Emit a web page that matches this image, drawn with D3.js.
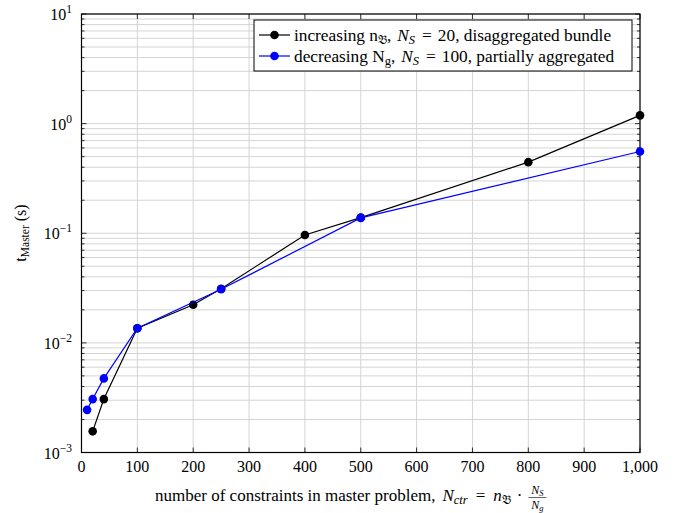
<!doctype html>
<html>
<head>
<meta charset="utf-8">
<script src="https://d3js.org/d3.v7.min.js"></script>
<style>
  body { margin: 0; background: #fff; }
  text { font-family: "Liberation Serif", "DejaVu Serif", serif; }
</style>
</head>
<body>
<svg width="683" height="513" id="chart"></svg>
<script>
    // data
    var blackX = [20, 40, 100, 200, 250, 400, 500, 800, 1000];
    var blackY = [0.00156, 0.00307, 0.0136, 0.0223, 0.0312, 0.0964, 0.139, 0.445, 1.19];
    var blueX = [10, 20, 40, 100, 250, 500, 1000];
    var blueY = [0.00245, 0.00307, 0.00474, 0.0136, 0.0308, 0.138, 0.557];
    var xTicks = [0, 100, 200, 300, 400, 500, 600, 700, 800, 900, 1000];
    var yExps = [-3, -2, -1, 0, 1];

    var svg = d3.select("#chart");
    var pLeft = 81.5, pRight = 640, pTop = 14, pBottom = 452.5;

    var x = d3.scaleLinear().domain([0, 1000]).range([pLeft, pRight]);
    var y = d3.scaleLog().domain([1e-3, 10]).range([pBottom, pTop]);

    // grid
    var minorY = [];
    yExps.slice(0, -1).forEach(function(e) {
        for (var k = 2; k <= 9; k++) minorY.push(k * Math.pow(10, e));
    });
    var grid = svg.append("g").attr("stroke", "#d4d4d4").attr("stroke-width", 1);
    grid.selectAll(".gy").data(minorY.concat(yExps.map(function(e) { return Math.pow(10, e); })))
        .enter().append("line")
        .attr("x1", pLeft).attr("x2", pRight)
        .attr("y1", function(d) { return y(d); }).attr("y2", function(d) { return y(d); });
    grid.selectAll(".gx").data(xTicks)
        .enter().append("line")
        .attr("y1", pTop).attr("y2", pBottom)
        .attr("x1", function(d) { return x(d); }).attr("x2", function(d) { return x(d); });

    // ticks (inside, all four sides)
    var ticks = svg.append("g").attr("stroke", "#000").attr("stroke-width", 0.8);
    yExps.forEach(function(e) {
        [pLeft, pRight].forEach(function(px) {
            var dir = px == pLeft ? 1 : -1;
            ticks.append("line").attr("x1", px).attr("x2", px + dir * 5)
                .attr("y1", y(Math.pow(10, e))).attr("y2", y(Math.pow(10, e)));
        });
    });
    minorY.forEach(function(v) {
        [pLeft, pRight].forEach(function(px) {
            var dir = px == pLeft ? 1 : -1;
            ticks.append("line").attr("x1", px).attr("x2", px + dir * 3)
                .attr("y1", y(v)).attr("y2", y(v));
        });
    });
    xTicks.forEach(function(v) {
        ticks.append("line").attr("x1", x(v)).attr("x2", x(v)).attr("y1", pBottom).attr("y2", pBottom - 5);
        ticks.append("line").attr("x1", x(v)).attr("x2", x(v)).attr("y1", pTop).attr("y2", pTop + 5);
    });

    // frame
    svg.append("rect").attr("x", pLeft).attr("y", pTop)
        .attr("width", pRight - pLeft).attr("height", pBottom - pTop)
        .attr("fill", "none").attr("stroke", "#000").attr("stroke-width", 1.2);

    // tick labels
    svg.selectAll(".xl").data(xTicks).enter().append("text")
        .attr("x", function(d) { return x(d); }).attr("y", pBottom + 19)
        .attr("text-anchor", "middle").attr("font-size", 16)
        .text(function(d) { return d3.format(",")(d); });

    yExps.forEach(function(e) {
        var t = svg.append("text").attr("x", 72).attr("y", y(Math.pow(10, e)) + 6)
            .attr("text-anchor", "end").attr("font-size", 16);
        t.append("tspan").text("10");
        t.append("tspan").attr("font-size", 11.5).attr("dy", -7).text(e < 0 ? "\u2212" + (-e) : e);
    });

    // series
    function series(xs, ys, col) {
        var pts = xs.map(function(v, i) { return [v, ys[i]]; });
        var line = d3.line().x(function(d) { return x(d[0]); }).y(function(d) { return y(d[1]); });
        svg.append("path").datum(pts).attr("d", line)
            .attr("fill", "none").attr("stroke", col).attr("stroke-width", 1.2);
        svg.append("g").selectAll("circle").data(pts).enter().append("circle")
            .attr("cx", function(d) { return x(d[0]); }).attr("cy", function(d) { return y(d[1]); })
            .attr("r", 4.3).attr("fill", col);
    }
    series(blackX, blackY, "#000");
    series(blueX, blueY, "#0000ff");

    // legend
    var lg = svg.append("g");
    lg.append("rect").attr("x", 254).attr("y", 20).attr("width", 378).attr("height", 51)
        .attr("fill", "#fff").attr("stroke", "#000").attr("stroke-width", 1);
    var rows = [
        { col: "#000", y: 35, word: "increasing n", sub: "\ud835\udd05", val: "20, disaggregated bundle" },
        { col: "#0000ff", y: 56, word: "decreasing N", sub: "g", val: "100, partially aggregated" }
    ];
    rows.forEach(function(r) {
        lg.append("line").attr("x1", 259).attr("x2", 290).attr("y1", r.y).attr("y2", r.y)
            .attr("stroke", r.col).attr("stroke-width", 1.2);
        lg.append("circle").attr("cx", 274.5).attr("cy", r.y).attr("r", 4.3).attr("fill", r.col);
        var t = lg.append("text").attr("x", 294).attr("y", r.y + 5.5).attr("font-size", 17.3);
        t.append("tspan").text(r.word);
        t.append("tspan").attr("font-size", 12.5).attr("dy", 3).text(r.sub);
        t.append("tspan").attr("dy", -3).text(",");
        t.append("tspan").attr("dx", 6).attr("font-style", "italic").text("N");
        t.append("tspan").attr("font-size", 12.5).attr("font-style", "italic").attr("dy", 3).text("S");
        t.append("tspan").attr("dx", 7).attr("dy", -3).text("=");
        t.append("tspan").attr("dx", 6).text(r.val);
    });

    // y label
    var yl = svg.append("text").attr("transform", "translate(26," + 233 + ") rotate(-90)")
        .attr("text-anchor", "middle").attr("font-size", 16);
    yl.append("tspan").text("t");
    yl.append("tspan").attr("font-size", 11.5).attr("dy", 3).text("Master");
    yl.append("tspan").attr("dy", -3).text(" (s)");

    // x label
    var xl = svg.append("text").attr("x", 155).attr("y", 501).attr("font-size", 17);
    xl.append("tspan").text("number of constraints in master problem,");
    xl.append("tspan").attr("dx", 7).attr("font-style", "italic").text("N");
    xl.append("tspan").attr("font-style", "italic").attr("font-size", 12.5).attr("dy", 3).text("ctr");
    xl.append("tspan").attr("dx", 8).attr("dy", -3).text("=");
    xl.append("tspan").attr("dx", 8).attr("font-style", "italic").text("n");
    xl.append("tspan").attr("font-size", 12.5).attr("dy", 3).text("\ud835\udd05");
    xl.append("tspan").attr("dx", 6).attr("dy", -3).text("\u00b7");
    var bb = xl.node().getBBox();
    var fx = bb.x + bb.width + 15;
    var fr = svg.append("g").attr("font-size", 12).attr("font-style", "italic");
    var num = fr.append("text").attr("x", fx).attr("y", 494).attr("text-anchor", "middle");
    num.append("tspan").text("N");
    num.append("tspan").attr("font-size", 8.5).attr("dy", 2).text("S");
    var den = fr.append("text").attr("x", fx).attr("y", 508.5).attr("text-anchor", "middle");
    den.append("tspan").text("N");
    den.append("tspan").attr("font-size", 8.5).attr("dy", 2).text("g");
    fr.append("line").attr("x1", fx - 9).attr("x2", fx + 9).attr("y1", 497.5).attr("y2", 497.5)
        .attr("stroke", "#000").attr("stroke-width", 0.6);
</script>
</body>
</html>
